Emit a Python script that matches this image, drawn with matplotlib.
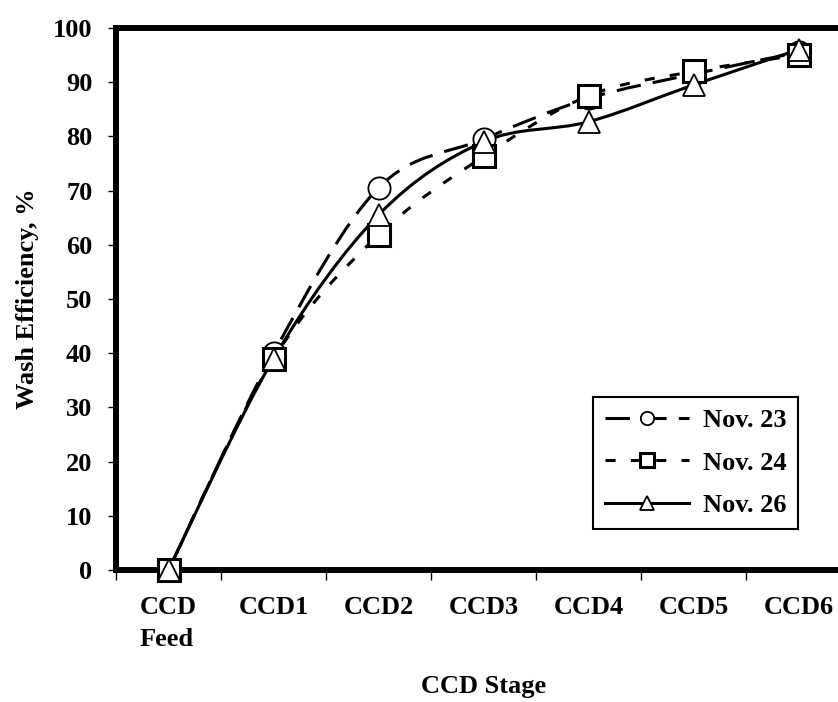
import numpy as np
import matplotlib
matplotlib.use("Agg")
import matplotlib.pyplot as plt
from matplotlib.path import Path
from matplotlib.patches import PathPatch
from matplotlib.lines import Line2D

# --- Data ---
stages = ["CCD\nFeed", "CCD1", "CCD2", "CCD3", "CCD4", "CCD5", "CCD6"]
nov23 = [0, 40, 70.5, 79.5, 87, 91.5, 95.5]
nov24 = [0, 39, 61.8, 76.3, 87.5, 92, 95]
nov26 = [0, 39, 65.5, 79, 82.7, 89.5, 96]

plt.rcParams["font.family"] = ["Liberation Serif", "DejaVu Serif"]
plt.rcParams["font.weight"] = "bold"
FS = 19


def smooth_path(xs, ys):
    """Excel-like smoothed line: cubic bezier through the points."""
    pts = np.column_stack([xs, ys]).astype(float)
    n = len(pts)
    verts = [pts[0]]
    codes = [Path.MOVETO]
    for i in range(n - 1):
        p0 = pts[i - 1] if i > 0 else pts[i]
        p1 = pts[i]
        p2 = pts[i + 1]
        p3 = pts[i + 2] if i + 2 < n else pts[i + 1]
        c1 = p1 + (p2 - p0) / 6.0
        c2 = p2 - (p3 - p1) / 6.0
        verts += [c1, c2, p2]
        codes += [Path.CURVE4] * 3
    return Path(verts, codes)


fig = plt.figure(figsize=(8.38, 7.02), dpi=100)
ax = fig.add_axes([116 / 838, 132 / 702, 735 / 838, 542 / 702])

x = np.arange(len(stages))
series = [
    ("Nov. 23", nov23, (0, (8, 4)), "o", 16, 1.3),
    ("Nov. 24", nov24, (0, (3.3, 5)), "s", 16, 2.2),
    ("Nov. 26", nov26, "-", "^", 16.5, 1.3),
]

handles = []
for lab, vals, ls, mk, ms, mew in series:
    patch = PathPatch(smooth_path(x, vals), facecolor="none", edgecolor="black",
                      linewidth=2.2, linestyle=ls, transform=ax.transData,
                      capstyle="butt")
    ax.add_patch(patch)
    ax.plot(x, vals, linestyle="none", marker=mk, markersize=ms,
            markerfacecolor="white", markeredgecolor="black",
            markeredgewidth=mew, zorder=3, clip_on=False)
    handles.append(Line2D([], [], color="black", linewidth=2.2, linestyle=ls,
                          marker=mk, markersize=ms * 0.6,
                          markerfacecolor="white", markeredgecolor="black",
                          markeredgewidth=mew, label=lab))

ax.set_xlim(-0.5, len(stages) - 0.5)
ax.set_ylim(0, 100)
ax.set_yticks(np.arange(0, 101, 10))

# ticks at the category borders, labels at centres
ax.set_xticks(np.arange(-0.5, len(stages), 1.0))
ax.set_xticklabels([])
ax.set_xticks(x, minor=True)
ax.set_xticklabels(stages, minor=True, linespacing=1.5, multialignment="left")
ax.tick_params(axis="x", which="major", direction="out", length=7, width=1)
ax.tick_params(axis="x", which="minor", length=0, pad=19, labelsize=FS)
ax.tick_params(axis="y", direction="out", length=6, width=1, pad=11, labelsize=FS)

for sp in ax.spines.values():
    sp.set_linewidth(4.3)

ax.set_ylabel("Wash Efficiency, %", fontsize=FS, fontweight="bold", labelpad=10)
ax.set_xlabel("CCD Stage", fontsize=FS, fontweight="bold", labelpad=17)

leg = ax.legend(handles=handles, loc="lower right", bbox_to_anchor=(0.928, 0.0757),
                fontsize=FS, handlelength=3.2, handletextpad=0.5, labelspacing=0.72,
                borderpad=0.45, borderaxespad=0, fancybox=False, framealpha=1,
                edgecolor="black")
leg.get_frame().set_linewidth(1.5)

fig.savefig("out.png", dpi=100)
